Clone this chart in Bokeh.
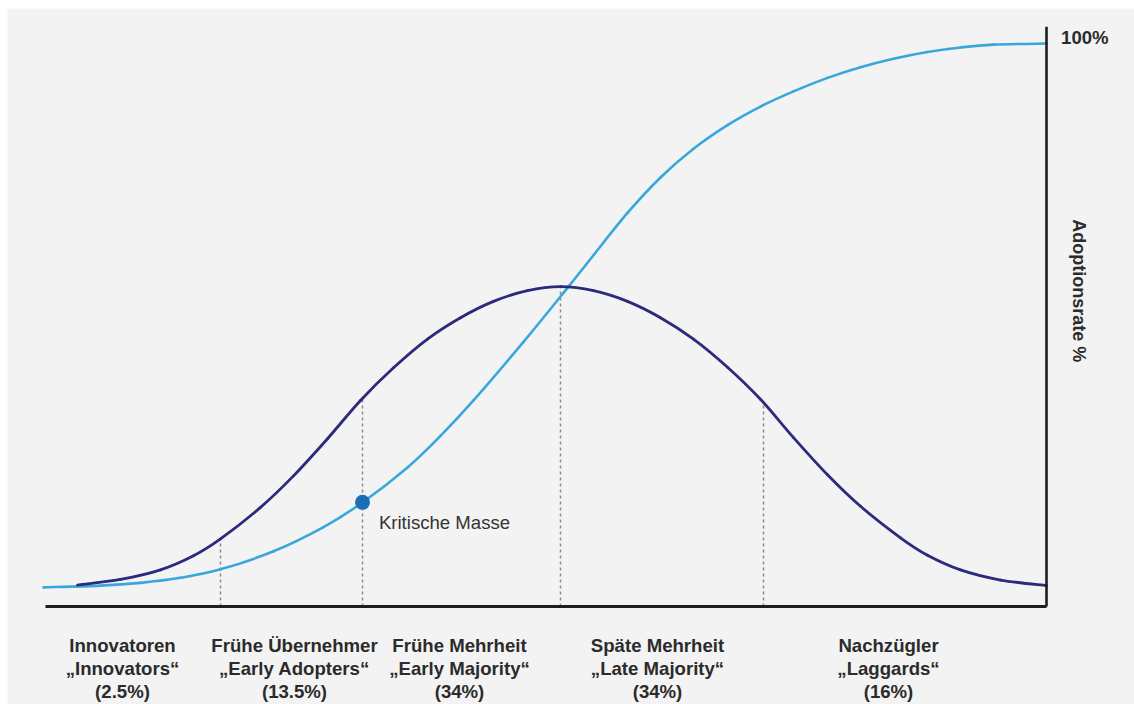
import math

from bokeh.core.properties import value
from bokeh.embed import file_html
from bokeh.models import Range1d
from bokeh.plotting import figure
from bokeh.resources import INLINE

# Horizontal position: time to adoption, in standard deviations from the mean.
# Vertical position: adoption rate in percent.

# Bell curve: share of adopters per period
bell_x = [-2.415, -2.2, -2.0, -1.835, -1.7, -1.5, -1.335, -1.165, -1.0, -0.835,
          -0.665, -0.5, -0.335, -0.165, 0.0, 0.165, 0.335, 0.5, 0.665, 0.835,
          1.0, 1.165, 1.335, 1.5, 1.7, 1.835, 2.0, 2.2, 2.43]
bell_y = [3.8, 4.8, 6.5, 9.0, 12.0, 17.6, 23.2, 29.8, 36.6, 42.4,
          47.5, 51.3, 54.2, 56.1, 56.8, 56.1, 54.2, 51.3, 47.5, 42.5,
          36.8, 30.0, 23.4, 17.8, 12.2, 9.1, 6.5, 4.7, 3.7]

# S-curve: cumulative adoption
s_x = [-2.585, -2.3, -2.1, -1.9, -1.7, -1.435, -1.185, -0.985, -0.765, -0.6,
       -0.435, -0.185, 0.035, 0.165, 0.335, 0.5, 0.665, 0.835, 1.0, 1.165,
       1.335, 1.5, 1.665, 1.835, 2.0, 2.165, 2.43]
s_y = [3.4, 3.7, 4.2, 5.1, 6.6, 9.8, 14.1, 18.6, 24.7, 30.3,
       36.6, 47.0, 56.6, 62.4, 69.9, 76.2, 81.3, 85.5, 88.8, 91.5,
       93.9, 95.8, 97.3, 98.5, 99.3, 99.8, 100.0]

# Segment boundaries and the bell height at each of them
boundary_x = [-1.7, -0.99, 0.0, 1.015]
boundary_top = [12.0, 36.8, 56.8, 36.2]

# Critical mass point on the S-curve
critical_x = [-0.99]
critical_y = [18.5]

# Adopter categories
segment_de = ["Innovatoren", "Frühe Übernehmer", "Frühe Mehrheit", "Späte Mehrheit", "Nachzügler"]
segment_en = ["Innovators", "Early Adopters", "Early Majority", "Late Majority", "Laggards"]
segment_share = [2.5, 13.5, 34, 34, 16]
segment_label_x = [-2.19, -1.33, -0.505, 0.485, 1.64]

axis_left = -2.575
axis_right = 2.43
axis_top = 103.0

FONT = value("Liberation Sans")
TEXT_COLOR = "#2b2b2b"
FONT_SIZE = "18.6px"


def smooth_segments(xs, ys):
    """Cubic Bezier pieces (Catmull-Rom) passing through every given point."""
    n = len(xs)
    out = {k: [] for k in ("x0", "y0", "x1", "y1", "cx0", "cy0", "cx1", "cy1")}
    for i in range(n - 1):
        a = max(i - 1, 0)
        d = min(i + 2, n - 1)
        out["x0"].append(xs[i])
        out["y0"].append(ys[i])
        out["x1"].append(xs[i + 1])
        out["y1"].append(ys[i + 1])
        out["cx0"].append(xs[i] + (xs[i + 1] - xs[a]) / 6)
        out["cy0"].append(ys[i] + (ys[i + 1] - ys[a]) / 6)
        out["cx1"].append(xs[i + 1] - (xs[d] - xs[i]) / 6)
        out["cy1"].append(ys[i + 1] - (ys[d] - ys[i]) / 6)
    return out


p = figure(
    width=1134, height=704,
    x_range=Range1d(-2.765, 2.87), y_range=Range1d(-17.41, 106.22),
    output_backend="svg", toolbar_location=None,
    min_border_left=7, min_border_top=8, min_border_right=0, min_border_bottom=0,
)
p.axis.visible = False
p.grid.visible = False
p.outline_line_color = None
p.background_fill_color = "#f3f3f3"
p.border_fill_color = "white"

# Dotted segment boundaries
p.segment(x0=boundary_x, y0=[0] * len(boundary_x), x1=boundary_x, y1=boundary_top,
          line_color="#8c8c8c", line_width=1.5, line_dash="3 3")

# Curves
p.bezier(line_color="#3aa7dc", line_width=2.6, line_cap="round",
         **smooth_segments(s_x, s_y))
p.bezier(line_color="#2c2a7c", line_width=2.8, line_cap="round",
         **smooth_segments(bell_x, bell_y))

# Axes
p.line([axis_left, axis_right], [0, 0], line_color="#1e1e1e", line_width=3)
p.line([axis_right, axis_right], [0, axis_top], line_color="#1e1e1e", line_width=2.6)

# Critical mass marker
p.scatter(critical_x, critical_y, size=15, fill_color="#1c6db6", line_color=None)
p.text(x=[critical_x[0] + 0.082], y=[critical_y[0] - 3.6], text=["Kritische Masse"],
       text_font=FONT, text_font_size=FONT_SIZE, text_color="#333333",
       text_align="left", text_baseline="middle")

# Right axis labels
p.text(x=[axis_right + 0.073], y=[101.1], text=["100%"],
       text_font=FONT, text_font_size=FONT_SIZE, text_font_style="bold",
       text_color=TEXT_COLOR, text_align="left", text_baseline="middle")
p.text(x=[2.59], y=[56.1], text=["Adoptionsrate %"], angle=-math.pi / 2,
       text_font=FONT, text_font_size="18px", text_font_style="bold",
       text_color=TEXT_COLOR, text_align="center", text_baseline="middle")


# Category labels below the axis
def share_text(v):
    return f"({v:g}%)"


line_rows = [-6.93, -11.01, -15.10]
lx, ly, lt = [], [], []
for x, de, en, share in zip(segment_label_x, segment_de, segment_en, segment_share):
    for row, t in zip(line_rows, [de, "\u201e" + en + "\u201c", share_text(share)]):
        lx.append(x)
        ly.append(row)
        lt.append(t)
p.text(x=lx, y=ly, text=lt, text_font=FONT, text_font_size=FONT_SIZE,
       text_font_style="bold", text_color=TEXT_COLOR,
       text_align="center", text_baseline="middle")

open("out.html", "w").write(file_html(p, INLINE))
